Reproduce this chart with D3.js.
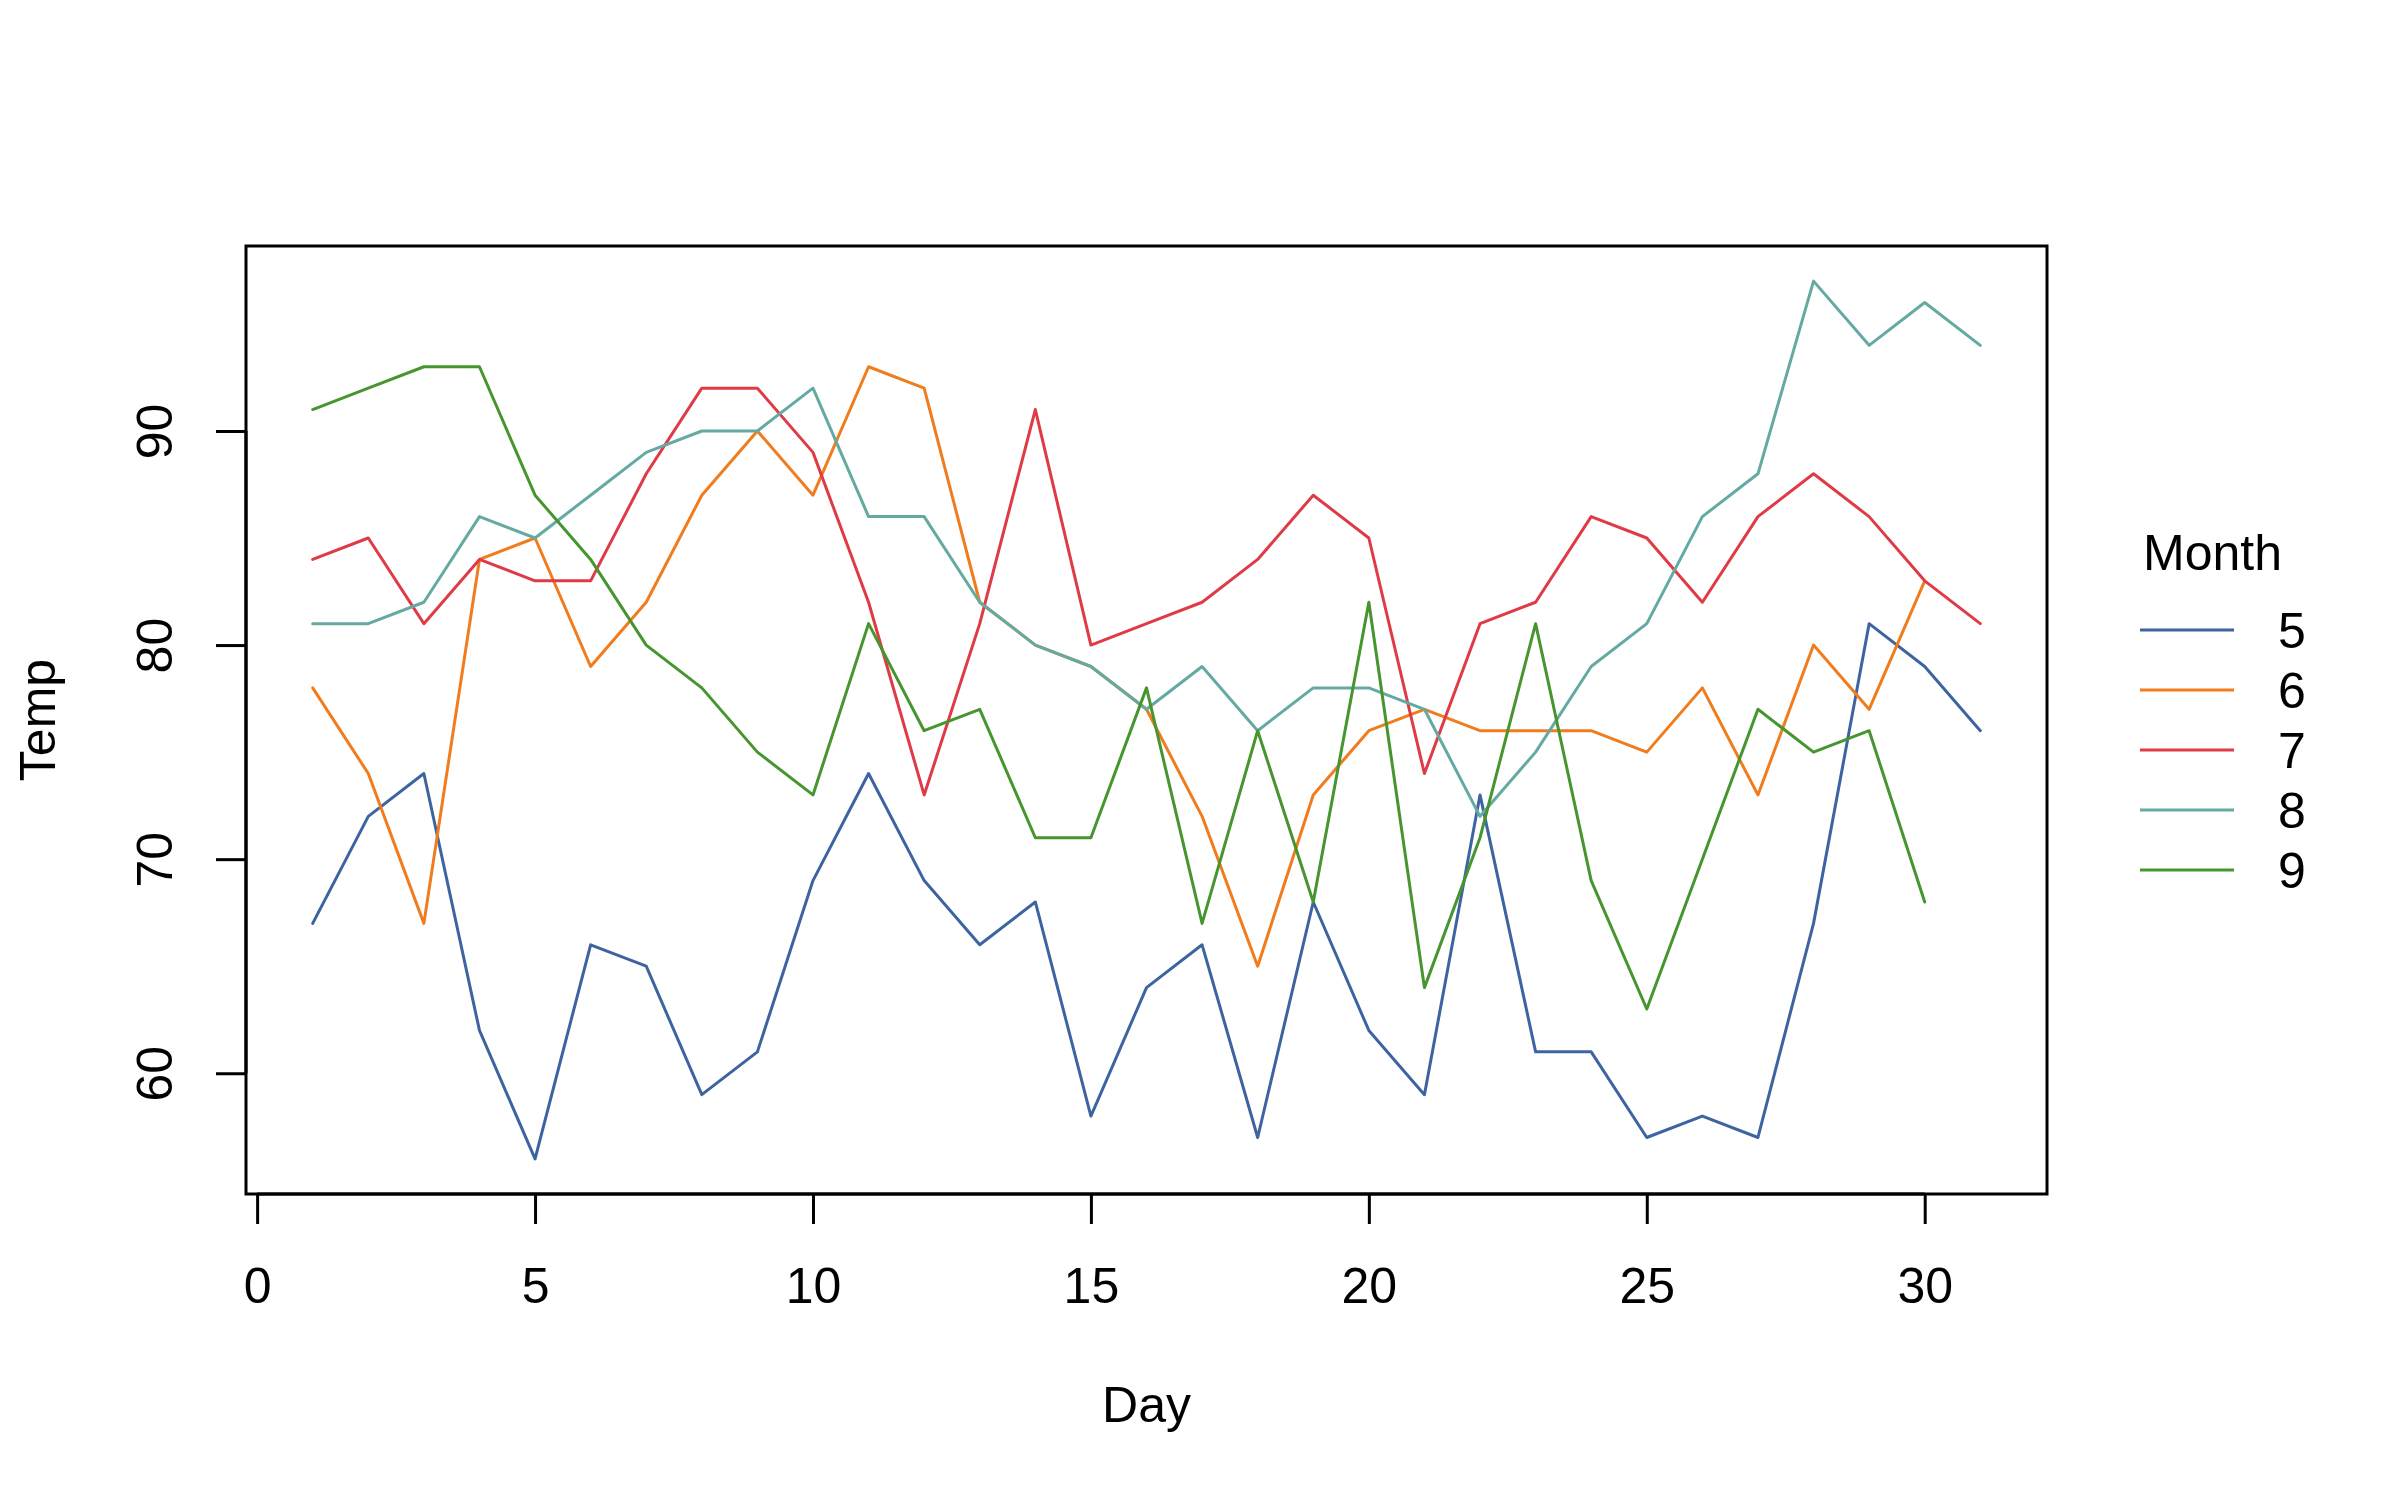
<!DOCTYPE html>
<html><head><meta charset="utf-8">
<script src="https://cdn.jsdelivr.net/npm/d3@7"></script>
<style>body{margin:0;background:#fff}svg{display:block}text{font-family:"Liberation Sans",Arial,sans-serif}</style>
</head><body>
<script>
const days = d3.range(1, 32);
const months = ["5", "6", "7", "8", "9"];
const may = [67,72,74,62,56,66,65,59,61,69,74,69,66,68,58,64,66,57,68,62,59,73,61,61,57,58,57,67,81,79,76];
const june = [78,74,67,84,85,79,82,87,90,87,93,92,82,80,79,77,72,65,73,76,77,76,76,76,75,78,73,80,77,83];
const july = [84,85,81,84,83,83,88,92,92,89,82,73,81,91,80,81,82,84,87,85,74,81,82,86,85,82,86,88,86,83,81];
const august = [81,81,82,86,85,87,89,90,90,92,86,86,82,80,79,77,79,76,78,78,77,72,75,79,81,86,88,97,94,96,94];
const september = [91,92,93,93,87,84,80,78,75,73,81,76,77,71,71,78,67,76,68,82,64,71,81,69,63,70,77,75,76,68];
const xTicks = [0, 5, 10, 15, 20, 25, 30];
const yTicks = [60, 70, 80, 90];
const colors = ["#3D64A0", "#F07C1E", "#DF3B46", "#64AAA3", "#46952F"];
const seriesList = [may, june, july, august, september];

const W = 2400, H = 1500;
const L = 246, R = 2047, T = 246, B = 1194;
const svg = d3.select("body").append("svg").attr("width", W).attr("height", H);

const allT = seriesList.flat();
const tmin = d3.min(allT), tmax = d3.max(allT);
const tpad = (tmax - tmin) * 0.04;
const x = d3.scaleLinear().domain([1 - 30 * 0.04, 31 + 30 * 0.04]).range([L, R]);
const y = d3.scaleLinear().domain([tmin - tpad, tmax + tpad]).range([B, T]);

const line = d3.line().x((d, i) => x(days[i])).y(d => y(d));
seriesList.forEach((s, k) => {
  svg.append("path").datum(s).attr("d", line)
    .attr("fill", "none").attr("stroke", colors[k]).attr("stroke-width", 3)
    .attr("stroke-linejoin", "round").attr("stroke-linecap", "round");
});

svg.append("rect").attr("x", L).attr("y", T).attr("width", R - L).attr("height", B - T)
  .attr("fill", "none").attr("stroke", "#000").attr("stroke-width", 3);

const xAxis = svg.append("g").attr("transform", `translate(0,${B})`)
  .call(d3.axisBottom(x).tickValues(xTicks).tickSize(30).tickPadding(43).tickFormat(d3.format("d")));
xAxis.select(".domain").attr("d", `M${x(0)},0H${x(30)}`).attr("stroke-width", 3);
xAxis.selectAll(".tick line").attr("stroke-width", 3);
xAxis.selectAll("text").attr("font-size", 50).attr("fill", "#000").attr("font-family", "Liberation Sans, Arial, sans-serif");

const yAxis = svg.append("g").attr("transform", `translate(${L},0)`)
  .call(d3.axisLeft(y).tickValues(yTicks).tickSize(30).tickFormat(d3.format("d")));
yAxis.select(".domain").attr("d", `M0,${y(60)}V${y(90)}`).attr("stroke-width", 3);
yAxis.selectAll(".tick line").attr("stroke-width", 3);
yAxis.selectAll("text").attr("font-size", 50).attr("fill", "#000")
  .attr("font-family", "Liberation Sans, Arial, sans-serif")
  .attr("x", null).attr("dy", null)
  .attr("text-anchor", "middle")
  .attr("transform", "translate(-74,0) rotate(-90)")
  .attr("y", 0);

svg.append("text").attr("x", (L + R) / 2).attr("y", 1422).attr("text-anchor", "middle")
  .attr("font-size", 50).text("Day");
svg.append("text").attr("transform", `translate(55,${(T + B) / 2}) rotate(-90)`)
  .attr("text-anchor", "middle").attr("font-size", 50).text("Temp");

// legend
const lg = svg.append("g");
lg.append("text").attr("x", 2143).attr("y", 570).attr("font-size", 50).text("Month");
months.forEach((m, i) => {
  const yy = 630 + i * 60;
  lg.append("line").attr("x1", 2140).attr("x2", 2234).attr("y1", yy).attr("y2", yy)
    .attr("stroke", colors[i]).attr("stroke-width", 3);
  lg.append("text").attr("x", 2292).attr("y", yy + 18).attr("text-anchor", "middle")
    .attr("font-size", 50).text(m);
});
</script>
</body></html>
